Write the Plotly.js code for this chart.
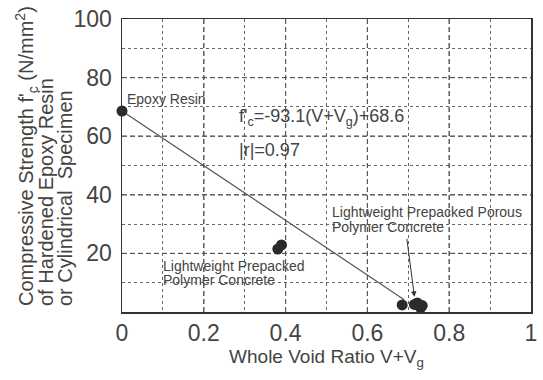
<!DOCTYPE html>
<html>
<head>
<meta charset="utf-8">
<script src="https://cdn.plot.ly/plotly-3.0.1.min.js"></script>
<style>html,body{margin:0;padding:0;background:#fff;}#chart{width:543px;height:380px;}</style>
</head>
<body>
<div id="chart"></div>
<script>
// Measured data (whole void ratio V+Vg vs compressive strength f'c)
const voidRatio = [0.0, 0.381, 0.390, 0.685, 0.715, 0.722, 0.730, 0.734];
const strength  = [68.6, 21.5, 22.9, 2.4, 2.6, 3.1, 1.4, 2.2];
// Regression line endpoints
const fitX = [0.0, 0.69];
const fitY = [68.6, 4.2];
// Axis tick settings
const xTickStep = 0.2, xMinorStart = 0.1;
const yTickStep = 20, yMinorStart = 10;
const yLabelAlias = {"0": " "};
// Major (dashed) grid positions = inner tick values
const xMajorGrid = [0.2, 0.4, 0.6, 0.8];
const yMajorGrid = [20, 40, 60, 80];
const xRange = [0, 1], yRange = [0, 100];

const FONT = "Liberation Sans, Arial, Helvetica, sans-serif";
const TXT = "#444";
const L = 122, R = 531, T = 19, B = 312;
const px = v => (v - L) / (R - L);
const py = v => (B - v) / (B - T);

// major grid drawn as dashed line traces through the axes' own scales (not clipped)
const vGridX = [], vGridY = [], hGridX = [], hGridY = [];
xMajorGrid.forEach(v => { vGridX.push(v, v, null); vGridY.push(yRange[0], yRange[1], null); });
yMajorGrid.forEach(v => { hGridX.push(xRange[0], xRange[1], null); hGridY.push(v, v, null); });
const gridTrace = (x, y) => ({x: x, y: y, mode: "lines", line: {color: "#555", width: 1, dash: "5px,3px"},
  hoverinfo: "skip", showlegend: false, connectgaps: false, cliponaxis: false});

const traces = [
  {x: [], y: [], xaxis: "x2", yaxis: "y2", mode: "markers", hoverinfo: "skip", showlegend: false},
  gridTrace(vGridX, vGridY),
  gridTrace(hGridX, hGridY),
  {x: fitX, y: fitY, mode: "lines", line: {color: "#555", width: 1.2}, hoverinfo: "skip", cliponaxis: false},
  {x: voidRatio, y: strength, mode: "markers", marker: {color: "#2b2b2b", size: 11}, cliponaxis: false}
];

// paper-referenced copies of the major grid (never clipped), mapped from the same arrays
const xFrac = v => (v - xRange[0]) / (xRange[1] - xRange[0]);
const yFrac = v => (v - yRange[0]) / (yRange[1] - yRange[0]);
const gridLine = {color: "#555", width: 1, dash: "5px,3px"};
const shapes = [
  ...xMajorGrid.map(v => ({type: "line", xref: "paper", yref: "paper", x0: xFrac(v), x1: xFrac(v), y0: 0, y1: 1, line: gridLine, layer: "below"})),
  ...yMajorGrid.map(v => ({type: "line", xref: "paper", yref: "paper", x0: 0, x1: 1, y0: yFrac(v), y1: yFrac(v), line: gridLine, layer: "below"}))
];

const ann = (text, x, y, size, extra) => Object.assign({
  text: text, xref: "paper", yref: "paper", x: px(x), y: py(y),
  xanchor: "left", yanchor: "middle", showarrow: false,
  font: {family: FONT, size: size, color: TXT}
}, extra || {});

const annotations = [
  ann("Epoxy Resin", 125, 99, 14),
  ann("f'<sub>c</sub>=-93.1(V+V<sub>g</sub>)+68.6", 237, 117, 18),
  ann("|r|=0.97", 237, 150, 18),
  ann("Lightweight Prepacked", 161, 266, 14),
  ann("Polymer Concrete", 161, 280, 14),
  ann("Lightweight Prepacked Porous", 330, 212, 14),
  ann("Polymer Concrete", 330, 227, 14),
  {x: 0.715, y: 5.2, ax: 0.696, ay: 25.5, xref: "x", yref: "y", axref: "x", ayref: "y",
   text: "", showarrow: true, arrowhead: 2, arrowsize: 1.1, arrowwidth: 1, arrowcolor: "#333"},
  ann("Compressive Strength f'<sub>c</sub> (N/mm<sup>2</sup>)", 26, 308, 20, {xanchor: "center", yanchor: "bottom", textangle: -90}),
  ann("of Hardened Epoxy Resin", 46, 308, 20, {xanchor: "center", yanchor: "bottom", textangle: -90}),
  ann("or Cylindrical&nbsp;&nbsp;Specimen", 65, 308, 20, {xanchor: "center", yanchor: "bottom", textangle: -90})
];

const gridAxis = (range, start, step, dash, color, over, anchor) => ({
  range: range, tickmode: "linear", tick0: start, dtick: step,
  showgrid: true, gridcolor: color, griddash: dash, gridwidth: 1,
  showticklabels: false, ticks: "", zeroline: false, showline: false,
  overlaying: over, anchor: anchor
});

const layout = {
  width: 543, height: 380,
  margin: {l: L, r: 543 - R, t: T, b: 380 - B},
  paper_bgcolor: "#fff", plot_bgcolor: "#fff",
  showlegend: false,
  font: {family: FONT, color: TXT},
  xaxis: {
    range: xRange, tickmode: "linear", tick0: 0, dtick: xTickStep,
    tickfont: {family: FONT, size: 23, color: TXT}, ticks: "",
    showgrid: false,
    zeroline: false, showline: true, mirror: true, linecolor: "#333", linewidth: 1.5,
    title: {text: "Whole Void Ratio V+V<sub>g</sub>", font: {family: FONT, size: 19, color: TXT}, standoff: 3}
  },
  yaxis: {
    range: yRange, tickmode: "linear", tick0: 0, dtick: yTickStep, labelalias: yLabelAlias,
    tickfont: {family: FONT, size: 23, color: TXT}, ticks: "", ticklabelstandoff: 4,
    showgrid: false,
    zeroline: false, showline: true, mirror: true, linecolor: "#333", linewidth: 1.5
  },
  // dotted minor grid (odd tenths / odd tens)
  xaxis2: gridAxis(xRange, xMinorStart, xTickStep, "dot", "#666", "x", "y"),
  yaxis2: gridAxis(yRange, yMinorStart, yTickStep, "dot", "#666", "y", "x"),
  shapes: shapes,
  annotations: annotations
};

Plotly.newPlot("chart", traces, layout, {staticPlot: true, displayModeBar: false});
</script>
</body>
</html>
